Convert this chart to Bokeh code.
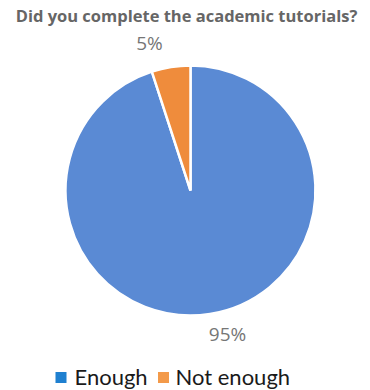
import numpy as np
from bokeh.plotting import figure
from bokeh.models import Range1d, ColumnDataSource
from bokeh.core.properties import value
from bokeh.embed import file_html
from bokeh.resources import INLINE

title = "Did you complete the academic tutorials?"
categories = ["Enough", "Not enough"]
values = [95, 5]
labels = ["95%", "5%"]
pie_colors = ["#5a8ad4", "#ef8c3c"]
legend_colors = ["#1f80d0", "#f39a4a"]

W, H = 370, 390
p = figure(width=W, height=H, x_range=Range1d(0, W), y_range=Range1d(0, H),
           output_backend="svg", toolbar_location=None, min_border=0)
p.axis.visible = False
p.grid.visible = False
p.outline_line_color = None
p.background_fill_color = "white"
p.border_fill_color = "white"

cx, cy, r = 190, H - 190, 125
vals = np.array(values, dtype=float)
frac = vals / vals.sum()
cum = np.concatenate([[0], np.cumsum(frac)])
start = np.pi / 2 - cum[:-1] * 2 * np.pi
end = np.pi / 2 - cum[1:] * 2 * np.pi

src = ColumnDataSource(dict(cat=categories, start=start, end=end, color=pie_colors))
p.wedge(x=cx, y=cy, radius=r, start_angle="start", end_angle="end", direction="clock",
        fill_color="color", line_color="white", line_width=2.5, source=src)

# title
p.text(x=[W / 2 + 1], y=[H - 15], text=[title], text_font=value("Open Sans"),
       text_font_style="bold", text_font_size="16.5px", text_color="#666666",
       text_align="center", text_baseline="middle")

# percentage labels
lab_x = [227, 149]
lab_y = [H - 333, H - 42]
p.text(x=lab_x, y=lab_y, text=labels, text_font=value("Open Sans"),
       text_font_size="19px", text_color="#767676",
       text_align="center", text_baseline="middle")

# legend
leg_sq_x = [60.5, 163]
leg_y = H - 377
p.scatter(x=leg_sq_x, y=[leg_y] * 2, marker="square", size=11,
          fill_color=legend_colors, line_color=None)
p.text(x=[74, 175], y=[leg_y + 1] * 2, text=categories, text_font=value("Lato"),
       text_font_size="22px", text_color="#1a1a1a",
       text_align="left", text_baseline="middle")

open("out.html", "w").write(file_html(p, INLINE))
